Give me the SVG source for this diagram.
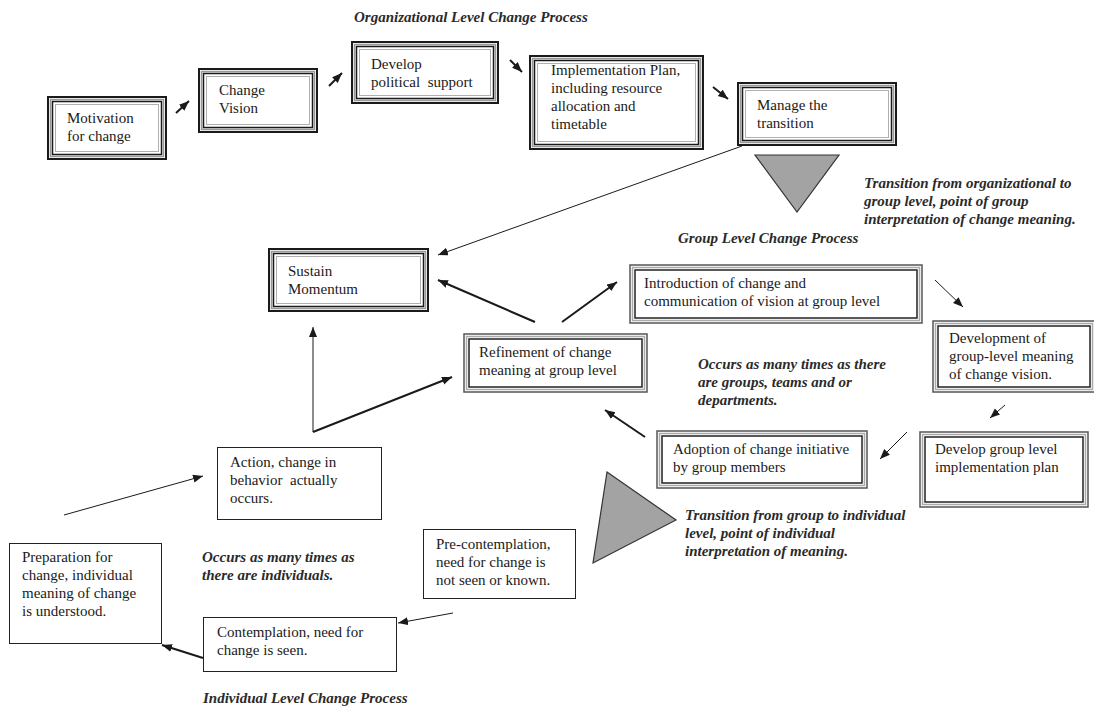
<svg xmlns="http://www.w3.org/2000/svg" width="1094" height="708" viewBox="0 0 1094 708">
<defs>
<marker id="ah" markerUnits="userSpaceOnUse" markerWidth="12" markerHeight="10" refX="10" refY="4" orient="auto"><path d="M0,0 L10,4 L0,8 Z" fill="#1a1a1a"/></marker>
<style>
.t1{fill:#fff;stroke:#1a1a1a;stroke-width:2}
.t2{fill:none;stroke:#999;stroke-width:1.5}
.t3{fill:none;stroke:#1a1a1a;stroke-width:1.5}
.t4{fill:none;stroke:#b0b0b0;stroke-width:1}
.d1{fill:#fff;stroke:#555;stroke-width:1.5}
.d2{fill:none;stroke:#aaa;stroke-width:1.5}
.d3{fill:none;stroke:#222;stroke-width:1.5}
.s1{fill:#fff;stroke:#222;stroke-width:1}
text{font-family:"Liberation Serif","Times New Roman",serif;font-size:15px;fill:#1a1a1a}
.pre{white-space:pre}
.lab{font-style:italic;font-weight:bold;fill:#2a2a2a}
.c{fill:none;stroke:#1a1a1a;marker-end:url(#ah)}
.w1{stroke-width:1}
.w2{stroke-width:2}
.tri{fill:#a3a3a3;stroke:#333;stroke-width:1.2}
</style>
</defs>
<rect width="1094" height="708" fill="#fff"/>

<g id="labels">
<text class="lab" x="354" y="22">Organizational Level Change Process</text>
<text class="lab" x="864" y="188">Transition from organizational to</text>
<text class="lab" x="864" y="206">group level, point of group</text>
<text class="lab" x="864" y="224">interpretation of change meaning.</text>
<text class="lab" x="678" y="243">Group Level Change Process</text>
<text class="lab" x="698" y="369">Occurs as many times as there</text>
<text class="lab" x="698" y="387">are groups, teams and or</text>
<text class="lab" x="698" y="405">departments.</text>
<text class="lab" x="685" y="520">Transition from group to individual</text>
<text class="lab" x="685" y="538">level, point of individual</text>
<text class="lab" x="685" y="556">interpretation of meaning.</text>
<text class="lab" x="202" y="562">Occurs as many times as</text>
<text class="lab" x="202" y="580">there are individuals.</text>
<text class="lab" x="203" y="703">Individual Level Change Process</text>
</g>

<g id="triangles">
<polygon class="tri" points="755,155 839,155 797,212"/>
<polygon class="tri" points="607,472 676,520 593,563"/>
</g>

<g id="connectors">
<line class="c w2" x1="176" y1="113" x2="189" y2="101"/>
<line class="c w2" x1="329" y1="86" x2="342" y2="73"/>
<line class="c w2" x1="510" y1="60" x2="522" y2="72"/>
<line class="c w2" x1="713" y1="87" x2="728" y2="99"/>
<line class="c w1" x1="742" y1="146" x2="438" y2="255"/>
<line class="c w2" x1="535" y1="322" x2="438" y2="280"/>
<line class="c w2" x1="562" y1="322" x2="617" y2="282"/>
<line class="c w1" x1="935" y1="280" x2="963" y2="307"/>
<line class="c w1" x1="1005" y1="405" x2="990" y2="418"/>
<line class="c w1" x1="907" y1="432" x2="880" y2="459"/>
<line class="c w2" x1="645" y1="437" x2="605" y2="410"/>
<line class="c w1" x1="313" y1="432" x2="313" y2="327"/>
<line class="c w2" x1="313" y1="432" x2="452" y2="377"/>
<line class="c w1" x1="64" y1="515" x2="203" y2="476"/>
<line class="c w1" x1="453" y1="613" x2="398" y2="623"/>
<line class="c w2" x1="203" y1="658" x2="162" y2="645"/>
</g>

<g id="motivation">
<rect class="t1" x="48" y="97" width="118" height="62"/><rect class="t2" x="50.5" y="99.5" width="113" height="57"/><rect class="t3" x="52.5" y="101.5" width="109" height="53"/><rect class="t4" x="55.5" y="104.5" width="103" height="47"/>
<text x="67" y="123">Motivation</text><text x="67" y="141">for change</text>
</g>
<g id="change-vision">
<rect class="t1" x="199" y="69" width="118" height="63"/><rect class="t2" x="201.5" y="71.5" width="113" height="58"/><rect class="t3" x="203.5" y="73.5" width="109" height="54"/><rect class="t4" x="206.5" y="76.5" width="103" height="48"/>
<text x="219" y="95">Change</text><text x="219" y="113">Vision</text>
</g>
<g id="political-support">
<rect class="t1" x="352" y="42" width="146" height="61"/><rect class="t2" x="354.5" y="44.5" width="141" height="56"/><rect class="t3" x="356.5" y="46.5" width="137" height="52"/><rect class="t4" x="359.5" y="49.5" width="131" height="46"/>
<text x="371" y="69">Develop</text><text class="pre" x="371" y="87">political  support</text>
</g>
<g id="implementation-plan">
<rect class="t1" x="530" y="56" width="173" height="93"/><rect class="t2" x="532.5" y="58.5" width="168" height="88"/><rect class="t3" x="534.5" y="60.5" width="164" height="84"/><rect class="t4" x="537.5" y="63.5" width="158" height="78"/>
<text x="551" y="75">Implementation Plan,</text><text x="551" y="93">including resource</text><text x="551" y="111">allocation and</text><text x="551" y="129">timetable</text>
</g>
<g id="manage-transition">
<rect class="t1" x="738" y="83" width="158" height="62"/><rect class="t2" x="740.5" y="85.5" width="153" height="57"/><rect class="t3" x="742.5" y="87.5" width="149" height="53"/><rect class="t4" x="745.5" y="90.5" width="143" height="47"/>
<text x="757" y="110">Manage the</text><text x="757" y="128">transition</text>
</g>
<g id="sustain-momentum">
<rect class="t1" x="269" y="249" width="159" height="62"/><rect class="t2" x="271.5" y="251.5" width="154" height="57"/><rect class="t3" x="273.5" y="253.5" width="150" height="53"/><rect class="t4" x="276.5" y="256.5" width="144" height="47"/>
<text x="288" y="276">Sustain</text><text x="288" y="294">Momentum</text>
</g>
<g id="refinement">
<rect class="d1" x="464" y="334" width="183" height="58"/><rect class="d2" x="466.5" y="336.5" width="178" height="53"/><rect class="d3" x="469" y="339" width="173" height="48"/>
<text x="479" y="357">Refinement of change</text><text x="479" y="375">meaning at group level</text>
</g>
<g id="introduction">
<rect class="d1" x="630" y="265" width="292" height="58"/><rect class="d2" x="632.5" y="267.5" width="287" height="53"/><rect class="d3" x="635" y="270" width="282" height="48"/>
<text x="644" y="288">Introduction of change and</text><text x="644" y="306">communication of vision at group level</text>
</g>
<g id="development">
<rect class="d1" x="933" y="321" width="162" height="71"/><rect class="d2" x="935.5" y="323.5" width="157" height="66"/><rect class="d3" x="938" y="326" width="152" height="61"/>
<text x="949" y="343">Development of</text><text x="949" y="361">group-level meaning</text><text x="949" y="379">of change vision.</text>
</g>
<g id="group-plan">
<rect class="d1" x="920" y="432" width="168" height="75"/><rect class="d2" x="922.5" y="434.5" width="163" height="70"/><rect class="d3" x="925" y="437" width="158" height="65"/>
<text x="935" y="454">Develop group level</text><text x="935" y="472">implementation plan</text>
</g>
<g id="adoption">
<rect class="d1" x="657" y="431" width="210" height="57"/><rect class="d2" x="659.5" y="433.5" width="205" height="52"/><rect class="d3" x="662" y="436" width="200" height="47"/>
<text x="673" y="454">Adoption of change initiative</text><text x="673" y="472">by group members</text>
</g>
<g id="action">
<rect class="s1" x="217.5" y="447.5" width="164" height="72"/>
<text x="230" y="467">Action, change in</text><text class="pre" x="230" y="485">behavior  actually</text><text x="230" y="503">occurs.</text>
</g>
<g id="preparation">
<rect class="s1" x="9.5" y="543.5" width="152" height="100"/>
<text x="22" y="562">Preparation for</text><text x="22" y="580">change, individual</text><text x="22" y="598">meaning of change</text><text x="22" y="616">is understood.</text>
</g>
<g id="pre-contemplation">
<rect class="s1" x="423.5" y="529.5" width="152" height="69"/>
<text x="436" y="549">Pre-contemplation,</text><text x="436" y="567">need for change is</text><text x="436" y="585">not seen or known.</text>
</g>
<g id="contemplation">
<rect class="s1" x="203.5" y="617.5" width="193" height="54"/>
<text x="217" y="637">Contemplation, need for</text><text x="217" y="655">change is seen.</text>
</g>
</svg>
